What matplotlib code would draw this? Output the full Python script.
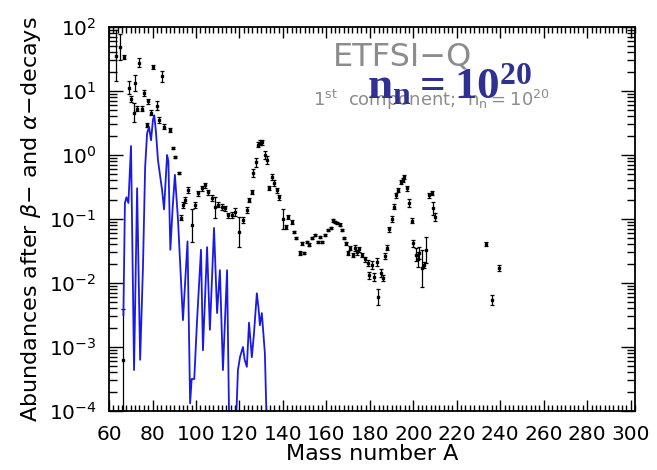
import numpy as np
import matplotlib
matplotlib.use("Agg")
import matplotlib.pyplot as plt
from matplotlib.ticker import MultipleLocator, LogLocator, NullFormatter

plt.rcParams['font.family'] = ['DejaVu Sans']
plt.rcParams['mathtext.fontset'] = 'custom'
plt.rcParams['mathtext.rm'] = 'DejaVu Sans'
plt.rcParams['mathtext.it'] = 'DejaVu Sans:italic'
plt.rcParams['mathtext.bf'] = 'Liberation Serif:bold'
plt.rcParams['mathtext.sf'] = 'DejaVu Sans'

# observed abundances (log10), with symmetric error in dex
obs_A = [63, 65, 67, 69, 70, 71.5, 72, 73, 74, 75, 76, 77.5, 78, 79.5, 80, 82, 83,
         84.4, 85.3, 88, 89.4, 90.3, 92.2, 93, 94, 95, 96.3, 98, 99.5, 101, 102.8,
         104.1, 105.5, 107.4, 108.7, 110, 112, 113.3, 114.7, 116.6, 118, 119.8,
         121.6, 123.4, 124.4, 125.7, 126.2, 127.6, 128.5, 129.4, 130.3, 131.7,
         132.6, 133.6, 134.9, 135.9, 137.2, 138.2, 140, 141.4, 142.3, 144.1, 145,
         146.2, 147.8, 148.7, 149.7, 151, 152, 153.3, 154.7, 156, 157, 158, 159.3,
         160.7, 162, 163, 163.9, 164.8, 166.2, 167.1, 168, 169, 169.9, 170.8, 172.2,
         173, 174, 175, 176.3, 177.7, 179, 179.5, 180.9, 181.8, 183.2, 183.7, 185,
         186, 186.9, 187.8, 188.7, 190.1, 191, 192, 192.9, 194.3, 195.2, 195.6, 197,
         198, 199.3, 199.8, 201.1, 202, 202.5, 203.9, 204.8, 205.7, 207, 208.5, 209,
         210, 233.3, 236.1, 239.3, 66.3]
obs_log = [1.55, 1.69, 1.53, 1.05, 0.875, 0.66, 1.125, 0.72, 1.44, 0.72, 0.97, 0.47,
           0.84, 0.66, 1.375, 0.77, 0.55, 1.23, 0.44, 0.39, 0.11, -0.03, -0.28, -0.98,
           -0.78, -0.70, -0.55, -1.1, -0.78, -0.6, -0.52, -0.47, -0.58, -0.67, -0.82,
           -0.78, -0.81, -0.83, -0.94, -0.94, -0.89, -1.2, -1.02, -0.86, -0.70, -0.58,
           -0.28, -0.11, 0.16, 0.19, 0.20, 0.0, -0.08, -0.52, -0.34, -0.44, -0.55,
           -0.66, -1.0, -1.12, -0.97, -1.05, -1.2, -1.3, -1.53, -1.38, -1.53, -1.36,
           -1.4, -1.30, -1.25, -1.36, -1.28, -1.36, -1.25, -1.17, -1.14, -1.02, -1.05,
           -1.06, -1.09, -1.17, -1.3, -1.38, -1.53, -1.45, -1.56, -1.45, -1.52, -1.47,
           -1.56, -1.63, -1.69, -1.88, -1.72, -1.91, -1.67, -2.22, -1.84, -1.92, -1.58,
           -1.45, -1.16, -1.0, -0.81, -0.63, -0.55, -0.42, -0.39, -0.34, -0.52, -0.75,
           -1.03, -1.38, -1.56, -1.63, -1.53, -1.77, -1.72, -1.48, -0.63, -0.59, -0.83,
           -0.97, -1.39, -2.27, -1.77, -3.2]
obs_err = [0.4, 0.2, 0.03, 0.1, 0.04, 0.15, 0.12, 0.04, 0.07, 0.04, 0.05, 0.03, 0.04,
           0.04, 0.03, 0.07, 0.05, 0.09, 0.04, 0.03, 0.02, 0.02, 0.02, 0.04, 0.05, 0.05,
           0.05, 0.26, 0.05, 0.04, 0.04, 0.04, 0.04, 0.05, 0.16, 0.04, 0.05, 0.04, 0.04,
           0.05, 0.06, 0.23, 0.05, 0.05, 0.03, 0.03, 0.06, 0.07, 0.04, 0.04, 0.04, 0.06,
           0.06, 0.03, 0.05, 0.05, 0.04, 0.04, 0.15, 0.03, 0.03, 0.03, 0.02, 0.02, 0.03,
           0.02, 0.02, 0.02, 0.02, 0.02, 0.02, 0.02, 0.02, 0.02, 0.02, 0.02, 0.02, 0.02,
           0.02, 0.02, 0.02, 0.02, 0.02, 0.02, 0.03, 0.03, 0.03, 0.05, 0.04, 0.04, 0.03,
           0.04, 0.05, 0.05, 0.06, 0.06, 0.06, 0.12, 0.06, 0.05, 0.05, 0.04, 0.04, 0.04,
           0.04, 0.04, 0.03, 0.03, 0.03, 0.03, 0.04, 0.06, 0.04, 0.05, 0.1, 0.12, 0.1,
           0.29, 0.05, 0.2, 0.04, 0.03, 0.1, 0.06, 0.03, 0.08, 0.05, 0.8]

# model, 1st component (log10)
model_A = [66.6, 67.3, 68.0, 68.9, 70.1, 71.5, 72.9, 74.3, 75.6, 76.6, 77.5, 78.4,
           79.3, 80.2, 80.8, 81.6, 82.5, 84.4, 85.3, 86.7, 87.3, 88.2, 89.3, 90.3,
           91.7, 94.0, 96.1, 97.3, 98.0, 99.2, 100.5, 102.3, 103.2, 105.1, 106.4,
           107.4, 108.3, 109.7, 111.0, 112.4, 114.3, 115.3, 118.3, 119.3, 120.3,
           121.6, 122.4, 123.4, 124.4, 125.7, 126.7, 128.0, 128.8, 129.4, 130.3,
           131.7, 132.6]
model_log = [-2.5, -0.75, -0.66, -0.75, 0.14, -3.36, -0.52, -3.2, -1.75, -0.19, 0.34,
             0.44, 0.23, 0.55, 0.62, 0.35, -0.08, -0.55, -0.85, 0.0, -0.1, -1.48, -0.8,
             -0.31, -1.0, -2.58, -1.35, -3.88, -3.5, -3.5, -2.58, -1.48, -3.05, -1.44,
             -2.73, -1.9, -1.14, -2.47, -1.8, -3.36, -1.8, -4.3, -4.3, -3.36, -3.15,
             -3.0, -3.2, -3.31, -2.62, -3.16, -2.78, -2.16, -2.4, -2.66, -2.47, -3.1,
             -4.3]

obs_y = 10.0 ** np.array(obs_log)
err = np.array(obs_err)
yerr = [obs_y - obs_y / 10.0 ** err, obs_y * 10.0 ** err - obs_y]

fig = plt.figure(figsize=(6.57, 4.70), dpi=100)
ax = fig.add_axes([0.166, 0.1255, 0.8005, 0.8171])

ax.errorbar(obs_A, obs_y, yerr=yerr, fmt='s', ms=1.6, color='black',
            elinewidth=0.9, capsize=1.4, capthick=0.9)
ax.plot(model_A, 10.0 ** np.array(model_log), color='#1a1ae6', lw=1.3)

ax.set_yscale('log')
ax.set_xlim(60, 302)
ax.set_ylim(1e-4, 1e2)

ax.xaxis.set_major_locator(MultipleLocator(20))
ax.xaxis.set_minor_locator(MultipleLocator(2))
ax.yaxis.set_major_locator(LogLocator(base=10, numticks=10))
ax.yaxis.set_minor_locator(LogLocator(base=10, subs=np.arange(2, 10), numticks=20))
ax.yaxis.set_minor_formatter(NullFormatter())

ax.tick_params(which='both', direction='in', top=True, right=True, width=1.0,
               labelsize=14.5)
ax.tick_params(axis='x', which='major', length=8, pad=10)
ax.tick_params(axis='x', which='minor', length=4)
ax.tick_params(axis='y', which='major', length=10, pad=9)
ax.tick_params(axis='y', which='minor', length=6)
for s in ax.spines.values():
    s.set_linewidth(1.3)

ax.set_xlabel('Mass number A', fontsize=16, labelpad=0)
ax.set_ylabel('Abundances after $\\beta$\u2212 and $\\alpha$\u2212decays',
              fontsize=16, labelpad=4)

ax.text(0.557, 0.922, 'ETFSI\u2212Q', transform=ax.transAxes, fontsize=23,
        color='#8c8c8c', ha='center', va='center')
ax.text(0.388, 0.795, r'$\mathdefault{1^{st}}$  component;  $\mathdefault{n_n=10^{20}}$',
        transform=ax.transAxes, fontsize=13, color='#8c8c8c', ha='left',
        va='baseline')
ax.text(0.49, 0.815, r'$\mathdefault{n_n=10^{20}}$', transform=ax.transAxes,
        fontsize=32.5, color='#2e3192', ha='left', va='baseline',
        family='Liberation Serif', weight='bold')

fig.savefig('out.png', dpi=100)
